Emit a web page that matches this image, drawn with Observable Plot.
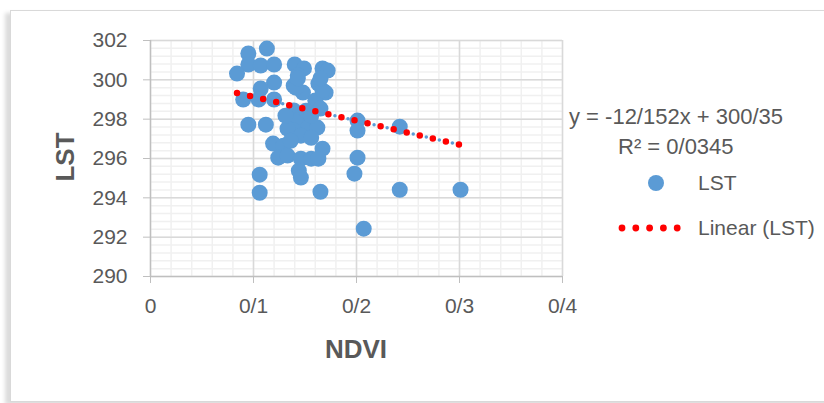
<!DOCTYPE html>
<html><head><meta charset="utf-8">
<script src="https://cdn.jsdelivr.net/npm/d3@7"></script>
<script src="https://cdn.jsdelivr.net/npm/@observablehq/plot@0.6"></script>
<style>
body{margin:0;background:#fff;}
#wrap{position:relative;width:824px;height:403px;overflow:hidden;font-family:"Liberation Sans",Arial,sans-serif;color:#595959;}
#frame{position:absolute;left:10px;top:10px;width:830px;height:390px;border:1px solid #d9d9d9;box-shadow:-5px 3px 4px rgba(0,0,0,0.14);background:#fff;}
#chart{position:absolute;left:0;top:0;}
.t{position:absolute;white-space:nowrap;font-size:21px;line-height:24px;}
.ttl{position:absolute;white-space:nowrap;font-size:26px;font-weight:bold;line-height:30px;}
</style></head>
<body>
<div id="wrap">
  <div id="frame"></div>
  <div id="chart"></div>
  <div class="ttl" id="ylab">LST</div>
  <div class="ttl" id="xlab">NDVI</div>
  <div class="t" id="eq" style="font-size:22px;"></div>
  <div class="t" id="r2" style="font-size:22px;"></div>
  <div id="legDot" style="position:absolute;left:648px;top:175px;width:16px;height:16px;border-radius:50%;background:#5B9BD5;"></div>
  <div class="t" id="leg1" style="left:698px;top:171px;"></div>
  <div id="legLine" style="position:absolute;left:615px;top:220px;width:70px;height:16px;"></div>
  <div class="t" id="leg2" style="left:698px;top:216px;"></div>
</div>
<script>
const ndvi = [0.113,0.095,0.095,0.107,0.120,0.084,0.140,0.149,0.143,0.167,0.172,0.163,0.170,0.139,0.148,0.120,0.107,0.090,0.105,0.120,0.160,0.165,0.139,0.201,0.201,0.095,0.112,0.143,0.153,0.162,0.139,0.133,0.146,0.119,0.129,0.167,0.124,0.133,0.146,0.156,0.163,0.201,0.144,0.146,0.106,0.198,0.106,0.165,0.207,0.242,0.242,0.301,0.141,0.167,0.151,0.131,0.156,0.165,0.143,0.156,0.136];
const lst = [301.59,301.34,300.78,300.73,300.78,300.32,300.78,300.58,300.22,300.58,300.47,299.81,299.35,299.71,299.35,299.86,299.56,299.0,299.0,299.0,298.95,298.54,298.44,297.93,297.42,297.72,297.72,297.93,297.57,297.57,297.42,297.52,297.16,296.76,296.65,296.50,296.04,296.15,295.99,295.99,295.99,296.04,295.38,295.03,295.18,295.23,294.26,294.31,292.43,297.62,294.41,294.41,299.60,299.46,298.43,298.18,298.18,300.07,300.07,297.05,296.9];
const xTicks = [0,0.1,0.2,0.3,0.4];
const xTickLabels = ["0","0/1","0/2","0/3","0/4"];
const yTicks = [290,292,294,296,298,300,302];
const trendCoef = [-12.152, 300.35];
const eqText = "y = -12/152x + 300/35";
const r2Text = "R² = 0/0345";
const seriesName = "LST";
const trendName = "Linear (LST)";
const xTitle = "NDVI", yTitle = "LST";

const points = ndvi.map((x,i)=>({x, y: lst[i]}));
const [xmin, xmax] = d3.extent(ndvi);
const trend = [xmin, xmax].map(x => ({x, y: trendCoef[0]*x + trendCoef[1]}));
const xMinor = d3.range(0, 0.4001, 0.02);
const yMinor = d3.range(290, 302.001, 0.4);

const chart = Plot.plot({
  width: 824, height: 403,
  marginLeft: 150, marginRight: 262, marginTop: 40, marginBottom: 127,
  style: {fontFamily: '"Liberation Sans", Arial, sans-serif', fontSize: "21px", color: "#595959", background: "transparent"},
  x: {domain: [0, 0.4]},
  y: {domain: [290, 302]},
  marks: [
    Plot.ruleX(xMinor, {stroke: "#f0f0f0", strokeWidth: 1.5}),
    Plot.ruleY(yMinor, {stroke: "#f0f0f0", strokeWidth: 1.5}),
    Plot.ruleX(xTicks.slice(1), {stroke: "#d9d9d9", strokeWidth: 1.5}),
    Plot.ruleY(yTicks.slice(1), {stroke: "#d9d9d9", strokeWidth: 1.5}),
    Plot.ruleX([0], {stroke: "#bfbfbf", strokeWidth: 1.5}),
    Plot.ruleY([290], {stroke: "#bfbfbf", strokeWidth: 1.5}),
    Plot.axisY({ticks: yTicks, tickSize: 7, tickPadding: 16, stroke: "#bfbfbf", fill: "#595959", label: null}),
    Plot.axisX({ticks: xTicks, tickFormat: (d,i) => xTickLabels[xTicks.indexOf(d)], tickSize: 7, tickPadding: 15, stroke: "#bfbfbf", fill: "#595959", label: null}),
    Plot.dot(points, {x: "x", y: "y", r: 8, fill: "#5B9BD5", stroke: "none"}),
    Plot.line(trend, {x: "x", y: "y", stroke: "#5B9BD5", strokeWidth: 3.5, strokeDasharray: "0,13.4", strokeDashoffset: -6.7, strokeLinecap: "round"}),
    Plot.line(trend, {x: "x", y: "y", stroke: "#ff0000", strokeWidth: 6.5, strokeDasharray: "0,13.4", strokeLinecap: "round"})
  ]
});
document.getElementById("chart").appendChild(chart);

const ylab = document.getElementById("ylab");
ylab.textContent = yTitle;
ylab.style.left = "65px"; ylab.style.top = "157px";
ylab.style.transform = "translate(-50%,-50%) rotate(-90deg)";
const xlab = document.getElementById("xlab");
xlab.textContent = xTitle;
xlab.style.left = "356px"; xlab.style.top = "349px";
xlab.style.transform = "translate(-50%,-50%)";
const eq = document.getElementById("eq");
eq.textContent = eqText; eq.style.left = "569px"; eq.style.top = "105px";
const r2 = document.getElementById("r2");
r2.textContent = r2Text; r2.style.left = "618px"; r2.style.top = "135px";
document.getElementById("leg1").textContent = seriesName;
document.getElementById("leg2").textContent = trendName;

// legend line sample: 5 red dots
const ls = d3.select("#legLine").append("svg").attr("width", 70).attr("height", 16);
ls.selectAll("circle").data([0,1,2,3,4]).join("circle")
  .attr("cx", i => 7 + i * 13.8).attr("cy", 8).attr("r", 3.4).attr("fill", "#ff0000");
</script>
</body></html>
